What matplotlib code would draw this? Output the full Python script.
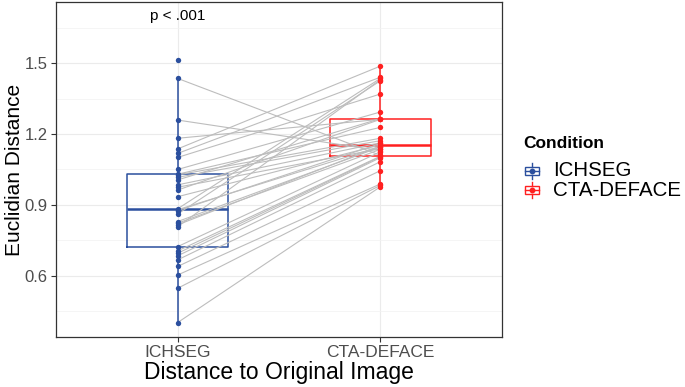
#!/usr/bin/env python3

import numpy as np
import matplotlib.pyplot as plt
from matplotlib.lines import Line2D
from matplotlib.patches import Rectangle

plt.rcParams['font.family'] = ['Liberation Sans', 'DejaVu Sans']

conditions = ["ICHSEG", "CTA-DEFACE"]
colors = ["#2B4F9E", "#FF2020"]

# paired values, one subject per position (first ICHSEG case has no CTA-DEFACE pair)
ichseg = [1.513, 1.435, 1.259, 1.182, 1.137, 1.118, 1.101, 1.050, 1.030, 1.027,
          1.017, 1.006, 0.985, 0.975, 0.963, 0.935, 0.884, 0.880, 0.876, 0.862,
          0.830, 0.823, 0.816, 0.808, 0.724, 0.706, 0.696, 0.685, 0.668, 0.640,
          0.604, 0.548, 0.403]
cta_deface = [np.nan, 1.110, 1.130, 1.262, 1.487, 1.440, 1.369, 1.293, 1.228, 1.182,
              1.172, 1.265, 1.163, 1.138, 1.262, 1.154, 1.435, 1.147, 1.160, 1.425,
              1.145, 1.135, 1.150, 1.430, 1.125, 1.106, 1.104, 1.100, 1.083, 1.045,
              0.989, 0.983, 0.977]

p_label = "p < .001"

W, H = 685, 387
fig = plt.figure(figsize=(W / 100, H / 100), dpi=100)
ax = fig.add_axes([56 / W, 1 - 337 / H, 446 / W, 335 / H])

a = np.array(ichseg)
b = np.array(cta_deface)
pos = [1, 2]

# boxes
data = [a, b[~np.isnan(b)]]
for i, d in enumerate(data):
    ax.boxplot([d], positions=[pos[i]], widths=0.5, showfliers=False,
               showcaps=False, manage_ticks=False,
               boxprops=dict(color=colors[i], lw=1.1),
               whiskerprops=dict(color=colors[i], lw=1.1),
               medianprops=dict(color=colors[i], lw=1.8),
               zorder=2)

# paired lines
for va, vb in zip(a, b):
    if np.isnan(vb):
        continue
    ax.plot(pos, [va, vb], color="#BDBDBD", lw=0.8, zorder=3)

# points
for i, d in enumerate(data):
    ax.scatter(np.full(len(d), pos[i]), d, s=15, color=colors[i],
               zorder=4, linewidths=0)

ax.text(1, 1.697, p_label, ha='center', va='center', fontsize=11)

ax.set_xlim(0.4, 2.6)
ax.set_ylim(0.342, 1.758)
ax.set_xticks(pos)
ax.set_xticklabels(conditions)
ax.set_yticks([0.6, 0.9, 1.2, 1.5])
ax.set_yticks([0.45, 0.75, 1.05, 1.35, 1.65], minor=True)
ax.grid(True, which='major', color='#EBEBEB', lw=0.8)
ax.grid(True, which='minor', axis='y', color='#F2F2F2', lw=0.5)
ax.set_axisbelow(True)
ax.tick_params(axis='both', which='major', length=3.5, color='#333333',
               labelsize=12, labelcolor='#4D4D4D', width=0.8, pad=2.5)
ax.tick_params(axis='x', which='major', labelsize=12.5)
ax.tick_params(axis='y', which='minor', length=0)
for s in ax.spines.values():
    s.set_color('#333333')
    s.set_linewidth(0.9)

ax.set_xlabel("Distance to Original Image", fontsize=16.5)
ax.set_ylabel("Euclidian Distance", fontsize=15)
ax.xaxis.set_label_coords(0.5, -0.072)
ax.yaxis.set_label_coords(-0.0717, 0.5)

# legend, drawn by hand in figure pixels
def fx(px):
    return px / W


def fy(py):
    return 1 - py / H


fig.text(fx(523), fy(143), "Condition", fontsize=12.5, fontweight='bold',
         ha='left', va='center')
for i, (lab, c) in enumerate(zip(conditions, colors)):
    cy = 171 + 19 * i
    fig.add_artist(Rectangle((fx(525), fy(cy + 4)), 14 / W, 8 / H, fill=False,
                             ec=c, lw=1.0, transform=fig.transFigure))
    fig.add_artist(Line2D([fx(525), fx(539)], [fy(cy), fy(cy)], color=c, lw=1.0,
                          transform=fig.transFigure))
    fig.add_artist(Line2D([fx(532), fx(532)], [fy(cy - 4), fy(cy - 8)], color=c,
                          lw=1.0, transform=fig.transFigure))
    fig.add_artist(Line2D([fx(532), fx(532)], [fy(cy + 4), fy(cy + 8)], color=c,
                          lw=1.0, transform=fig.transFigure))
    fig.add_artist(Line2D([fx(532)], [fy(cy)], marker='o', ms=3.2, color=c, lw=0,
                          transform=fig.transFigure))
    fig.text(fx(553), fy(cy), lab, fontsize=14.8, ha='left', va='center')

fig.savefig("out.png", dpi=100)
